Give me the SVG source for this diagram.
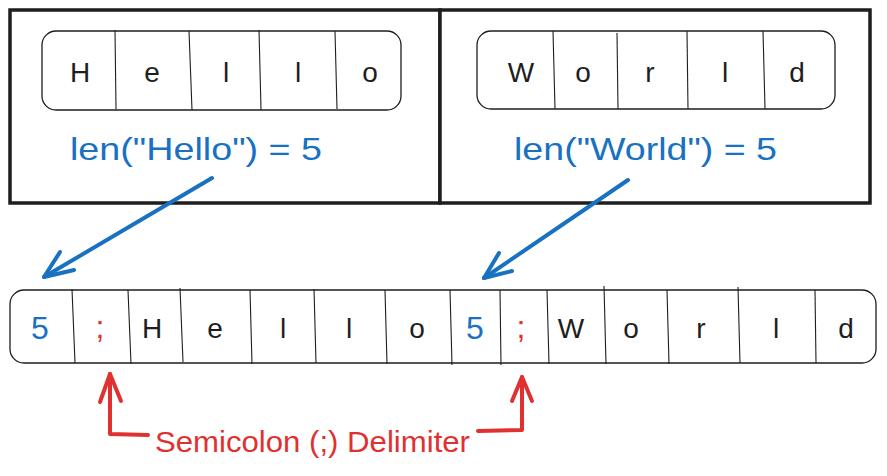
<svg xmlns="http://www.w3.org/2000/svg" width="887" height="476" viewBox="0 0 887 476">
<defs>
<style>
.box{fill:#fff;stroke:#1e1e1e;stroke-width:3.5}
.cellbox{fill:#fff;stroke:#1e1e1e;stroke-width:1.3}
.div{stroke:#1e1e1e;stroke-width:1.1}
.ch{font-family:"Liberation Sans",Arial,sans-serif;font-size:28px;fill:#1e1e1e;text-anchor:middle}
.blue{fill:#1971c2}
.red{fill:#e03131}
.lbl{font-family:"Liberation Sans",Arial,sans-serif;font-size:32px}
.barrow{stroke:#1971c2;stroke-width:4;fill:none;stroke-linecap:round;stroke-linejoin:round}
.rarrow{stroke:#e03131;stroke-width:4;fill:none;stroke-linecap:round;stroke-linejoin:round}
</style>
</defs>
<rect width="887" height="476" fill="#fff"/>
<g id="box-hello">
<rect class="box" x="10" y="10" width="430" height="193"/>
<rect class="cellbox" x="42" y="31" width="359" height="79" rx="14"/>
<line class="div" x1="115" y1="30" x2="116" y2="109"/>
<line class="div" x1="189" y1="31" x2="192" y2="110"/>
<line class="div" x1="259" y1="30" x2="261" y2="110"/>
<line class="div" x1="335" y1="31" x2="337" y2="109"/>
<text class="ch" x="80" y="82">H</text>
<text class="ch" x="152" y="82">e</text>
<text class="ch" x="226" y="82">l</text>
<text class="ch" x="298" y="82">l</text>
<text class="ch" x="370" y="82">o</text>
<text class="lbl blue" x="70" y="160" textLength="252" lengthAdjust="spacingAndGlyphs">len("Hello") = 5</text>
</g>
<g id="box-world">
<rect class="box" x="440" y="10" width="430" height="193"/>
<rect class="cellbox" x="477" y="31" width="358" height="78" rx="14"/>
<line class="div" x1="553" y1="31" x2="555" y2="109"/>
<line class="div" x1="617" y1="33" x2="618" y2="109"/>
<line class="div" x1="687" y1="31" x2="688" y2="109"/>
<line class="div" x1="763" y1="31" x2="765" y2="109"/>
<text class="ch" x="521" y="82">W</text>
<text class="ch" x="583" y="82">o</text>
<text class="ch" x="650" y="82">r</text>
<text class="ch" x="725" y="82">l</text>
<text class="ch" x="797" y="82">d</text>
<text class="lbl blue" x="514" y="160" textLength="263" lengthAdjust="spacingAndGlyphs">len("World") = 5</text>
</g>
<g id="encoded">
<rect class="cellbox" x="10" y="290" width="866" height="73" rx="14"/>
<line class="div" x1="72" y1="289" x2="75" y2="363"/>
<line class="div" x1="128" y1="290" x2="131" y2="364"/>
<line class="div" x1="180" y1="288" x2="183" y2="362"/>
<line class="div" x1="250" y1="290" x2="252" y2="364"/>
<line class="div" x1="314" y1="289" x2="316" y2="363"/>
<line class="div" x1="385" y1="290" x2="387" y2="364"/>
<line class="div" x1="450" y1="290" x2="452" y2="365"/>
<line class="div" x1="500" y1="290" x2="501" y2="365"/>
<line class="div" x1="547" y1="290" x2="549" y2="364"/>
<line class="div" x1="604" y1="286" x2="606" y2="364"/>
<line class="div" x1="667" y1="290" x2="669" y2="364"/>
<line class="div" x1="738" y1="287" x2="740" y2="363"/>
<line class="div" x1="815" y1="290" x2="816" y2="363"/>
<text class="ch blue" x="40" y="339" style="font-size:32px">5</text>
<text class="ch red" x="100" y="338" style="font-size:32px">;</text>
<text class="ch" x="152" y="338">H</text>
<text class="ch" x="215" y="338">e</text>
<text class="ch" x="283" y="338">l</text>
<text class="ch" x="349" y="338">l</text>
<text class="ch" x="417" y="338">o</text>
<text class="ch blue" x="475" y="339" style="font-size:32px">5</text>
<text class="ch red" x="521" y="338" style="font-size:32px">;</text>
<text class="ch" x="571" y="338">W</text>
<text class="ch" x="631" y="338">o</text>
<text class="ch" x="701" y="338">r</text>
<text class="ch" x="776" y="338">l</text>
<text class="ch" x="846" y="338">d</text>
</g>
<g id="delimiter-label">
<text class="lbl red" x="155" y="452" textLength="315" lengthAdjust="spacingAndGlyphs" style="font-size:29px">Semicolon (;) Delimiter</text>
</g>
<g id="connectors">
<path class="barrow" d="M212 178 L44 277"/>
<path class="barrow" d="M44 277 L74 270 M44 277 L60 252"/>
<path class="barrow" d="M628 180 L484 278"/>
<path class="barrow" d="M484 278 L512 271 M484 278 L499 253"/>
<path class="rarrow" d="M148 435 L110 434 L110 374"/>
<path class="rarrow" d="M110 374 L100 402 M110 374 L121 401"/>
<path class="rarrow" d="M478 431 L522 430 L522 377"/>
<path class="rarrow" d="M522 377 L512 401 M522 377 L532 401"/>
</g>
</svg>
